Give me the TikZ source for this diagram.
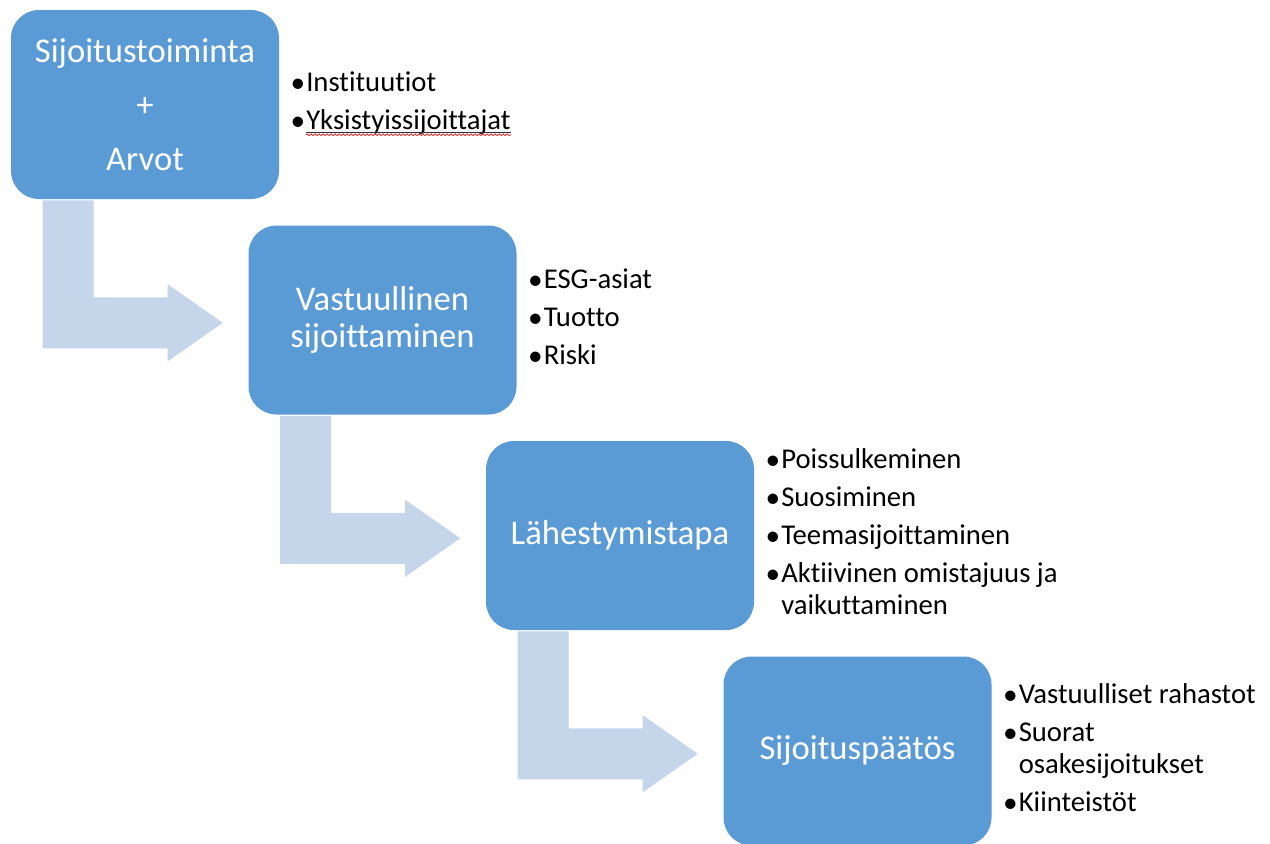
\documentclass[tikz,border=0pt]{standalone}
\usepackage{fontspec}
\setmainfont{Carlito}[Ligatures={NoCommon}]
\usetikzlibrary{calc,decorations.pathmorphing}
\definecolor{boxblue}{HTML}{5B9BD5}
\definecolor{arrblue}{HTML}{C5D5EA}
\newcommand\bitem{\strut\makebox[11.8pt][l]{\raisebox{-0.6pt}{\fontsize{22}{24}\selectfont •}}}
\newcommand\bcont{\strut\hspace*{11.8pt}}
\newcommand\bentarr[1]{%
  \fill[arr] ($(#1.south west)+(32,1)$) -- ++(51,0) -- ++(0,97) -- ++(74,0)
    -- ++(0,-13) -- ++(55,38.5) -- ++(-55,38.5) -- ++(0,-13) -- ++(-125,0) -- cycle;}
\begin{document}
\begin{tikzpicture}[x=0.75pt,y=-0.75pt,
  box/.style={fill=boxblue, rounded corners=21pt, minimum width=201pt,
    minimum height=141.75pt, inner sep=0pt, text=white,
    font=\fontsize{26}{28}\selectfont, align=center},
  lst/.style={anchor=west, inner sep=0pt, align=left,
    font=\fontsize{21.5}{24}\selectfont, text=black},
  arr/.style={fill=arrblue}]
\useasboundingbox (0,0) rectangle (1270,843);

\node[box] (b1) at (145,104.5) {Sijoitustoiminta\\[12.5pt]+\\[12.5pt]Arvot};
\node[box] (b2) at (382.5,320) {Vastuullinen\\sijoittaminen};
\node[box] (b3) at (620,535.5) {Lähestymistapa};
\node[box] (b4) at (857.5,751) {Sijoituspäätös};

\bentarr{b1}
\bentarr{b2}
\bentarr{b3}

\node[lst] (l1) at ($(b1.east)+(11,0)$) {\bitem Instituutiot\\[4.5pt]\bitem Yksistyissijoittajat};
\node[lst] (l2) at ($(b2.east)+(11,0)$) {\bitem ESG-asiat\\[4.5pt]\bitem Tuotto\\[4.5pt]\bitem Riski};
\node[lst] (l3) at ($(b3.east)+(11,0)$) {\bitem Poissulkeminen\\[4.5pt]\bitem Suosiminen\\[4.5pt]\bitem Teemasijoittaminen\\[4.5pt]\bitem Aktiivinen omistajuus ja\\\bcont vaikuttaminen};
\node[lst] (l4) at ($(b4.east)+(11,0)$) {\bitem Vastuulliset rahastot\\[4.5pt]\bitem Suorat\\\bcont osakesijoitukset\\[4.5pt]\bitem Kiinteistöt};

\draw[black!80, line width=0.6pt] ($(l1.south west)+(15.7,-7.6)$) -- ($(l1.south east)+(0,-7.6)$);
\draw[red, line width=0.5pt, decorate, decoration={snake, amplitude=0.7pt, segment length=3pt}]
  ($(l1.south west)+(15.7,-5)$) -- ($(l1.south east)+(0,-5)$);
\end{tikzpicture}
\end{document}
